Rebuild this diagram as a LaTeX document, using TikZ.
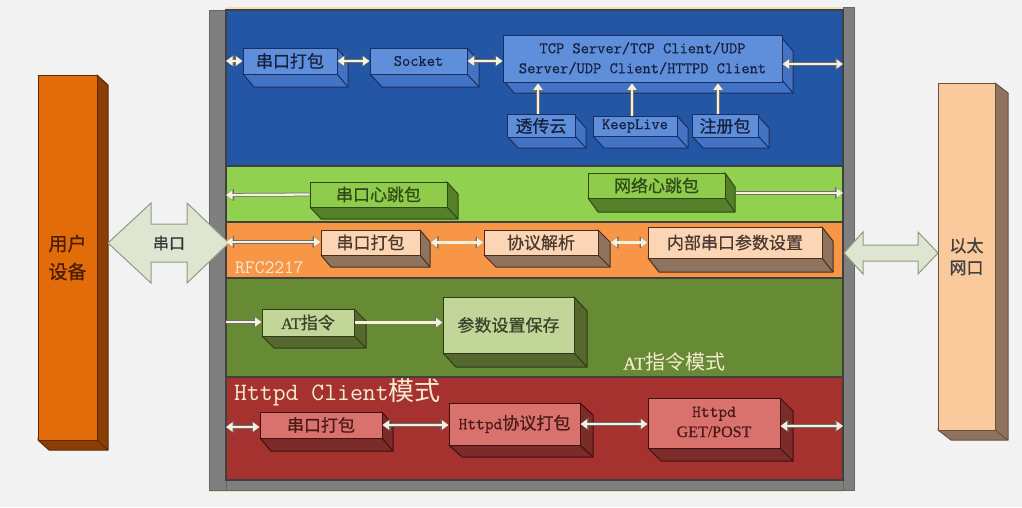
\documentclass[tikz,border=0pt]{standalone}
\usepackage{fontspec}
\setmainfont{Liberation Serif}
\newfontfamily\cjk[FakeBold=0.7]{Noto Sans CJK SC}
\newfontfamily\cjklabel{Noto Sans CJK SC}
\newfontfamily\monob[FakeBold=0.7]{Latin Modern Mono}
\newfontfamily\serifb[FakeBold=0.5]{Liberation Serif}
\usetikzlibrary{arrows.meta}

\definecolor{bgc}{HTML}{F2F2F2}
\definecolor{framec}{HTML}{7F7F7F}
\definecolor{creamline}{HTML}{F3DFB0}
\definecolor{blueband}{HTML}{2456A6}
\definecolor{bfrontc}{HTML}{5F8FDA}
\definecolor{bsidec}{HTML}{4273C4}
\definecolor{blinec}{HTML}{1B2F5E}
\definecolor{btextc}{HTML}{15213F}
\definecolor{greenband}{HTML}{92D050}
\definecolor{gfrontc}{HTML}{8FCC4C}
\definecolor{gsidec}{HTML}{55802A}
\definecolor{glinec}{HTML}{2D4A12}
\definecolor{gtextc}{HTML}{2F4A18}
\definecolor{orangeband}{HTML}{F79646}
\definecolor{ofrontc}{HTML}{FCD5B4}
\definecolor{osidec}{HTML}{8E735F}
\definecolor{olinec}{HTML}{4A2E1A}
\definecolor{otextc}{HTML}{4A3A30}
\definecolor{atband}{HTML}{678B34}
\definecolor{afrontc}{HTML}{C2D69A}
\definecolor{asidec}{HTML}{56682E}
\definecolor{alinec}{HTML}{2E3A18}
\definecolor{atextc}{HTML}{3A4228}
\definecolor{redband}{HTML}{A5322F}
\definecolor{rfrontc}{HTML}{D9726C}
\definecolor{rsidec}{HTML}{7B2C29}
\definecolor{rlinec}{HTML}{3E1010}
\definecolor{rtextc}{HTML}{4A1A18}
\definecolor{udfrontc}{HTML}{E36C0A}
\definecolor{udsidec}{HTML}{8A3E06}
\definecolor{udlinec}{HTML}{5A2A05}
\definecolor{udtextc}{HTML}{4A1E00}
\definecolor{ethfrontc}{HTML}{FAC99C}
\definecolor{ethsidec}{HTML}{8F735F}
\definecolor{ethlinec}{HTML}{6A5040}
\definecolor{ethtextc}{HTML}{404040}
\definecolor{bigfill}{HTML}{DEE6D2}
\definecolor{bigline}{HTML}{8F9A80}
\definecolor{conncream}{HTML}{F6F1DE}
\definecolor{connline}{HTML}{6E6E6E}
\definecolor{labelcream}{HTML}{F5EBD2}

\newcommand\tdbox[9]{%
  \filldraw[#8side] (#4,#3) -- ({#4+#6},{#3+#7}) -- ({#4+#6},{#5+#7}) -- ({#2+#6},{#5+#7}) -- (#2,#5) -- cycle;
  \draw[#8side] (#4,#5) -- ({#4+#6},{#5+#7});
  \node[#8front, minimum width={(#4-#2)*1pt}, minimum height={(#5-#3)*1pt}] (#1) at ({(#2+#4)/2},{(#3+#5)/2}) {#9};
}
\newcommand\conn[3]{%
  \draw[connout,o#1] #2 -- #3;
  \draw[connin,i#1] #2 -- #3;
}

\begin{document}
\begin{tikzpicture}[x=1pt,y=-1pt,
  connout/.style={draw=connline, line width=3.8pt},
  connin/.style={draw=conncream, line width=2.3pt},
  oboth/.style={{Triangle[length=8pt,width=12pt]}-{Triangle[length=8pt,width=12pt]}},
  iboth/.style={{Triangle[length=6.5pt,width=9pt]}-{Triangle[length=6.5pt,width=9pt]}},
  ofwd/.style={-{Triangle[length=8pt,width=12pt]}},
  ifwd/.style={-{Triangle[length=6.5pt,width=9pt]}},
  cjkfont/.style={font=\cjk\fontsize{17}{20}\selectfont},
  bfront/.style={draw=blinec, fill=bfrontc, line width=1pt, text=btextc, cjkfont},
  bside/.style={draw=blinec, fill=bsidec, line width=1pt, line join=round},
  gfront/.style={draw=glinec, fill=gfrontc, line width=1pt, text=gtextc, cjkfont},
  gside/.style={draw=glinec, fill=gsidec, line width=1pt, line join=round},
  ofront/.style={draw=olinec, fill=ofrontc, line width=1pt, text=otextc, cjkfont},
  oside/.style={draw=olinec, fill=osidec, line width=1pt, line join=round},
  afront/.style={draw=alinec, fill=afrontc, line width=1pt, text=atextc, cjkfont},
  aside/.style={draw=alinec, fill=asidec, line width=1pt, line join=round},
  rfront/.style={draw=rlinec, fill=rfrontc, line width=1pt, text=rtextc, cjkfont},
  rside/.style={draw=rlinec, fill=rsidec, line width=1pt, line join=round},
  udfront/.style={draw=udlinec, fill=udfrontc, line width=1pt, text=udtextc, align=center, font=\cjk\fontsize{19}{28}\selectfont},
  udside/.style={draw=udlinec, fill=udsidec, line width=1pt, line join=round},
  ethfront/.style={draw=ethlinec, fill=ethfrontc, line width=1pt, text=ethtextc, align=center, font=\cjk\fontsize{17}{22}\selectfont},
  ethside/.style={draw=ethlinec, fill=ethsidec, line width=1pt, line join=round},
  band/.style={draw=black!75, line width=1.2pt},
  bigarrow/.style={fill=bigfill, draw=bigline, line width=1pt, line join=miter},
  bandlabel/.style={text=labelcream, anchor=west, inner sep=0pt},
]
% background and bounding box
\fill[bgc] (0,0) rectangle (1022,507);
\path[use as bounding box] (0,0) rectangle (1022,507);

% frame
\fill[creamline] (226,7) rectangle (843,10);
\fill[creamline] (209,489) rectangle (843,492);
\filldraw[framec, draw=black!60, line width=0.6pt] (209,10) rectangle (226,490);
\filldraw[framec, draw=black!60, line width=0.6pt] (843,7) rectangle (854,490);
\filldraw[framec, draw=black!60, line width=0.6pt] (226,480) rectangle (843,490);

% bands
\filldraw[band, fill=blueband] (226,10) rectangle (843,166);
\filldraw[band, fill=greenband] (226,166) rectangle (843,222);
\filldraw[band, fill=orangeband] (226,222) rectangle (843,278);
\filldraw[band, fill=atband] (226,278) rectangle (843,377);
\filldraw[band, fill=redband] (226,377) rectangle (843,480);

% side devices
\tdbox{ud}{38}{75}{97}{440}{11}{10}{ud}{用户\\设备}
\tdbox{eth}{938}{83}{995}{430}{13}{10}{eth}{以太\\网口}

% big double arrows
\filldraw[bigarrow] (108,243) -- (151,203) -- (151,224) -- (187,224) -- (187,203) -- (229,243)
  -- (187,283) -- (187,262) -- (151,262) -- (151,283) -- cycle;
\node[text=black!80, font=\cjk\fontsize{16}{18}\selectfont] (serial) at (169,243) {串口};
\filldraw[bigarrow] (844,253) -- (863,232) -- (863,245) -- (918,245) -- (918,232) -- (938,253)
  -- (918,274) -- (918,261) -- (863,261) -- (863,274) -- cycle;

% blue band boxes
\tdbox{b1}{243}{48}{337}{74}{11}{13}{b}{串口打包}
\tdbox{b2}{370}{48}{467}{74}{12}{13}{b}{\monob\fontsize{16}{18}\selectfont Socket}
\tdbox{b3}{503}{38}{782}{80}{11}{13}{b}{\monob\fontsize{16}{21}\selectfont\begin{tabular}{@{}c@{}}TCP Server/TCP Client/UDP\\[-1pt]Server/UDP Client/HTTPD Client\end{tabular}}
\tdbox{b4}{507}{116}{575}{136}{11}{12}{b}{透传云}
\tdbox{b5}{593}{116}{677}{136}{11}{12}{b}{\monob\fontsize{16}{18}\selectfont KeepLive}
\tdbox{b6}{692}{116}{758}{136}{11}{12}{b}{注册包}

% green band boxes
\tdbox{g1}{310}{182}{447}{207}{11}{12}{g}{串口心跳包}
\tdbox{g2}{588}{173}{725}{198}{10}{14}{g}{网络心跳包}

% orange band boxes
\tdbox{o1}{321}{230}{420}{255}{10}{12}{o}{串口打包}
\tdbox{o2}{484}{230}{598}{255}{12}{12}{o}{协议解析}
\tdbox{o3}{648}{227}{822}{258}{11}{14}{o}{内部串口参数设置}

% AT band boxes
\tdbox{a1}{262}{309}{354}{336}{12}{12}{a}{{\serifb\fontsize{16}{18}\selectfont AT}指令}
\tdbox{a2}{443}{297}{574}{353}{13}{14}{a}{参数设置保存}

% red band boxes
\tdbox{r1}{260}{412}{382}{438}{11}{13}{r}{串口打包}
\tdbox{r2}{449}{403}{580}{445}{13}{12}{r}{{\monob\fontsize{17}{18}\selectfont Httpd}协议打包}
\tdbox{r3}{648}{398}{780}{448}{13}{13}{r}{\begin{tabular}{@{}c@{}}{\monob\fontsize{17}{20}\selectfont Httpd}\\{\serifb\fontsize{16}{20}\selectfont GET/POST}\end{tabular}}

% band labels
\node[bandlabel, font=\ttfamily\fontsize{19}{20}\selectfont] (rfc) at (235,268) {RFC2217};
\node[bandlabel] (atmode) at (623,362) {{\serifb\fontsize{18}{20}\selectfont AT}{\cjklabel\fontsize{20}{22}\selectfont 指令模式}};
\node[bandlabel] (httpmode) at (234,392) {{\ttfamily\fontsize{25}{26}\selectfont Httpd Client}{\cjklabel\fontsize{26}{28}\selectfont 模式}};

% connector end points on the band edges
\coordinate (bL) at (226,61);
\coordinate (bR) at (843,64);
\coordinate (gL) at (226,195);
\coordinate (gR) at (843,193);
\coordinate (oL) at (226,242);
\coordinate (aL) at (226,322);
\coordinate (rL) at (226,427);
\coordinate (rR) at (843,426);

% blue band connectors
\conn{both}{(bL)}{(b1.west)}
\conn{both}{(b1.east)}{(b2.west)}
\conn{both}{(b2.east)}{(b2.east -| b3.west)}
\conn{both}{(b3.east |- bR)}{(bR)}
\conn{fwd}{([xshift=-3pt]b4.north)}{([xshift=-3pt]b4.north |- b3.south)}
\conn{fwd}{([xshift=-3pt]b5.north)}{([xshift=-3pt]b5.north |- b3.south)}
\conn{fwd}{([xshift=-7pt]b6.north)}{([xshift=-7pt]b6.north |- b3.south)}

% green band connectors
\conn{fwd}{(g1.west)}{(gL)}
\path (g2.east |- gR) coordinate (g2o);
\conn{fwd}{([xshift=10pt]g2o)}{(gR)}

% orange band connectors
\conn{both}{(oL)}{(oL -| o1.west)}
\conn{both}{([xshift=10pt]o1.east)}{(o2.west)}
\conn{both}{([xshift=12pt]o2.east)}{(o2.east -| o3.west)}

% AT band connectors
\conn{fwd}{(aL)}{(aL -| a1.west)}
\conn{fwd}{(a1.east)}{(a1.east -| a2.west)}

% red band connectors
\conn{both}{(rL)}{(rL -| r1.west)}
\conn{both}{(r1.east)}{(r1.east -| r2.west)}
\conn{both}{(r2.east)}{(r2.east -| r3.west)}
\conn{both}{(r3.east |- rR)}{(rR)}
\end{tikzpicture}
\end{document}
